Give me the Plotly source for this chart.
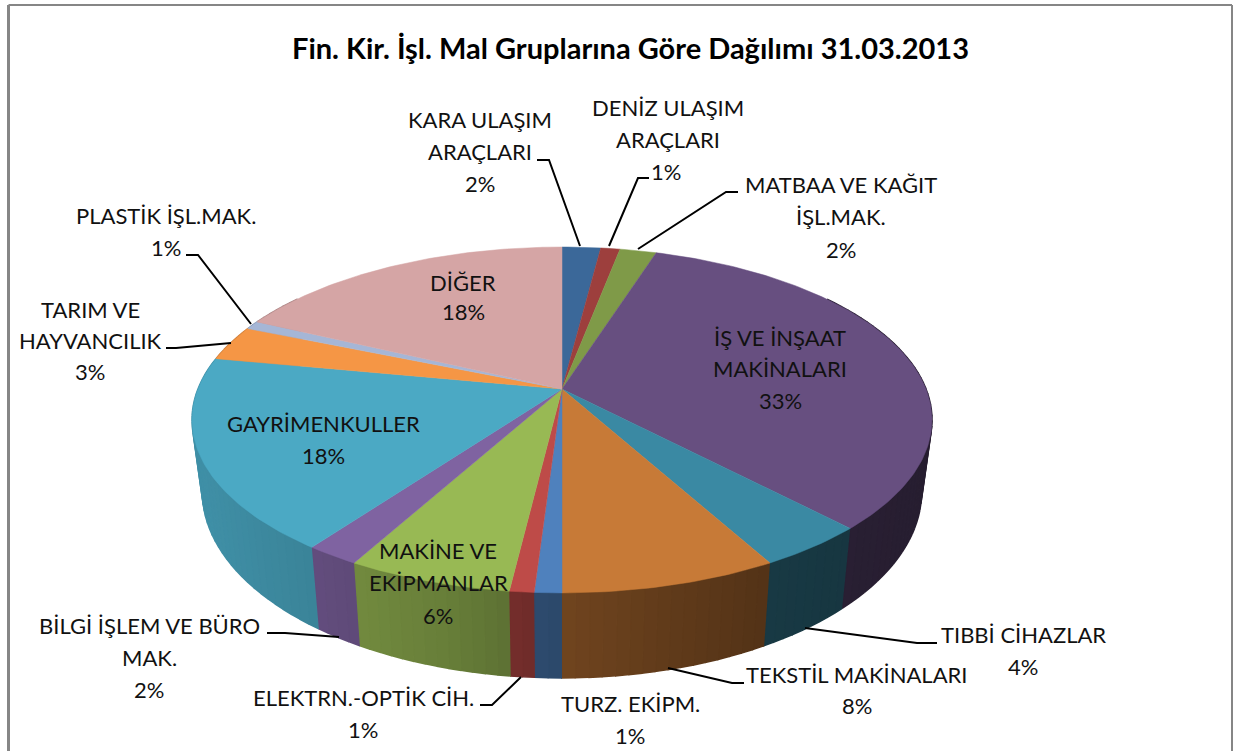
import numpy as np
import plotly.graph_objects as go

# ---------- data ----------
categories = ["KARA ULAŞIM ARAÇLARI", "DENİZ ULAŞIM ARAÇLARI", "MATBAA VE KAĞIT İŞL.MAK.",
              "İŞ VE İNŞAAT MAKİNALARI", "TIBBİ CİHAZLAR", "TEKSTİL MAKİNALARI", "TURZ. EKİPM.",
              "ELEKTRN.-OPTİK CİH.", "MAKİNE VE EKİPMANLAR", "BİLGİ İŞLEM VE BÜRO MAK.",
              "GAYRİMENKULLER", "TARIM VE HAYVANCILIK", "PLASTİK İŞL.MAK.", "DİĞER"]
values = [2.0, 1.0, 1.9, 33.0, 4.1, 8.0, 1.0, 0.9, 6.1, 2.0, 18.0, 3.3, 0.8, 17.9]
percent_labels = ["2%", "1%", "2%", "33%", "4%", "8%", "1%", "1%", "6%", "2%", "18%", "3%", "1%", "18%"]
title_text = "Fin. Kir. İşl. Mal Gruplarına Göre Dağılımı 31.03.2013"

# ---------- styles ----------
top_colors = ["#3B6899", "#9D3F3D", "#7F9A48", "#674F80", "#3A89A3", "#C77A37", "#4F81BD",
              "#BE4B48", "#98B954", "#7F63A1", "#4BA9C4", "#F59645", "#A5B6D6", "#D5A5A5"]
FONT = "Lato"
TEXT_COLOR = "#111111"
FS = 22

# projection of the tilted pie onto the page
CX, CY, A, B, K = 562.0, 389.0, 364.0, 167.4, 0.179


def rim(theta):
    u, v = np.sin(theta), np.cos(theta)
    d = 1 + K * v
    return CX + A * u / d, CY - B * v / d


def bottom(x, y):
    return CX + 0.972 * (x - CX), 1.077 * y + 39.3


def shade(hex_color, f):
    rgb = [int(hex_color[i:i + 2], 16) for i in (1, 3, 5)]
    return "rgb(%d,%d,%d)" % tuple(int(c * f) for c in rgb)


fig = go.Figure()
fracs = np.array(values) / sum(values)
edges = np.concatenate([[0], np.cumsum(fracs)]) * 2 * np.pi

# side wall, back to front
for i, col in enumerate(top_colors):
    t0, t1 = edges[i], edges[i + 1]
    n = max(1, int(np.ceil(values[i] / 0.5)))
    ts = np.linspace(t0, t1, n + 1)
    for a, b in zip(ts[:-1], ts[1:]):
        mid = (a + b) / 2
        if abs(mid - np.pi) > 2.2:
            continue
        arc = np.linspace(a, b, 4)
        xt, yt = rim(arc)
        xb, yb = bottom(xt, yt)
        xm = xt.mean()
        f = np.interp(xm, [200, 312, 450, 540, 650, 770, 930], [.85, .78, .68, .58, .5, .42, .38])
        c = shade(col, f)
        fig.add_trace(go.Scatter(x=np.r_[xt, xb[::-1]], y=np.r_[yt, yb[::-1]], mode="lines",
                                 fill="toself", fillcolor=c, line=dict(color=c, width=1.6),
                                 hoverinfo="skip", showlegend=False))

# top face wedges
for i, col in enumerate(top_colors):
    arc = np.linspace(edges[i], edges[i + 1], max(3, int(values[i] * 4)))
    xr, yr = rim(arc)
    fig.add_trace(go.Scatter(x=np.r_[CX, xr, CX], y=np.r_[CY, yr, CY], mode="lines",
                             fill="toself", fillcolor=col, line=dict(color=col, width=0.5),
                             name=categories[i], hoverinfo="skip", showlegend=False))

# leader lines (page layout, not data)
leaders = [
    [(537, 160), (549, 160), (580, 246)],
    [(609, 246), (638, 178), (649, 178)],
    [(638, 249), (726, 192), (738, 192)],
    [(186, 255), (198, 255), (251, 324)],
    [(166, 348), (176, 348), (231, 343)],
    [(267, 633), (285, 633), (339, 637)],
    [(480, 705), (492, 705), (521, 677)],
    [(744, 683), (732, 683), (668, 668)],
    [(937, 643), (917, 643), (805, 628)],
]
lx, ly = [], []
for seg in leaders:
    lx += [p[0] for p in seg] + [None]
    ly += [p[1] for p in seg] + [None]
fig.add_trace(go.Scatter(x=lx, y=ly, mode="lines", line=dict(color="#000000", width=2),
                         hoverinfo="skip", showlegend=False))

# text labels: each line centred at (x, y)
label_lines = [
    ("KARA ULAŞIM", 480, 119), ("ARAÇLARI", 480, 151), (percent_labels[0], 480, 183),
    ("DENİZ ULAŞIM", 668, 107), ("ARAÇLARI", 668, 139), (percent_labels[1], 666, 171),
    ("MATBAA VE KAĞIT", 841, 184), ("İŞL.MAK.", 841, 216), (percent_labels[2], 841, 249),
    ("PLASTİK İŞL.MAK.", 166, 215), (percent_labels[12], 166, 247),
    ("TARIM VE", 90, 309), ("HAYVANCILIK", 90, 340), (percent_labels[11], 90, 371),
    ("DİĞER", 463, 282), (percent_labels[13], 463, 311),
    ("İŞ VE İNŞAAT", 780, 337), ("MAKİNALARI", 780, 368), (percent_labels[3], 780, 400),
    ("GAYRİMENKULLER", 323, 423), (percent_labels[10], 323, 455),
    ("MAKİNE VE", 438, 550), ("EKİPMANLAR", 438, 582), (percent_labels[8], 438, 615),
    ("BİLGİ İŞLEM VE BÜRO", 149, 625), ("MAK.", 149, 657), (percent_labels[9], 149, 689),
    ("ELEKTRN.-OPTİK CİH.", 363, 697), (percent_labels[7], 363, 729),
    ("TURZ. EKİPM.", 630, 703), (percent_labels[6], 630, 735),
    ("TEKSTİL MAKİNALARI", 857, 674), (percent_labels[5], 857, 705),
    ("TIBBİ CİHAZLAR", 1023, 634), (percent_labels[4], 1023, 666),
]
annotations = [dict(x=x, y=y, xref="x", yref="y", text=t, showarrow=False, xanchor="center",
                    yanchor="middle", font=dict(family=FONT, size=FS, color=TEXT_COLOR))
               for t, x, y in label_lines]
annotations.append(dict(x=630, y=47, xref="x", yref="y", text="<b>%s</b>" % title_text, showarrow=False,
                        xanchor="center", yanchor="middle",
                        font=dict(family=FONT, size=29, color="#000000")))

# frame: left, top, right edges only
shapes = [dict(type="line", x0=8.5, x1=8.5, y0=5, y1=751, line=dict(color="#868686", width=3)),
          dict(type="line", x0=8.5, x1=1232, y0=5, y1=5, line=dict(color="#868686", width=2)),
          dict(type="line", x0=1232, x1=1232, y0=5, y1=751, line=dict(color="#868686", width=2))]

fig.update_layout(width=1234, height=751, margin=dict(l=0, r=0, t=0, b=0),
                  paper_bgcolor="white", plot_bgcolor="white", showlegend=False,
                  xaxis=dict(range=[0, 1234], visible=False, fixedrange=True),
                  yaxis=dict(range=[751, 0], visible=False, fixedrange=True),
                  annotations=annotations, shapes=shapes)
fig.write_html("out.html", config=dict(displayModeBar=False),
               post_script="document.body.style.margin='0';document.body.style.overflow='hidden';")
